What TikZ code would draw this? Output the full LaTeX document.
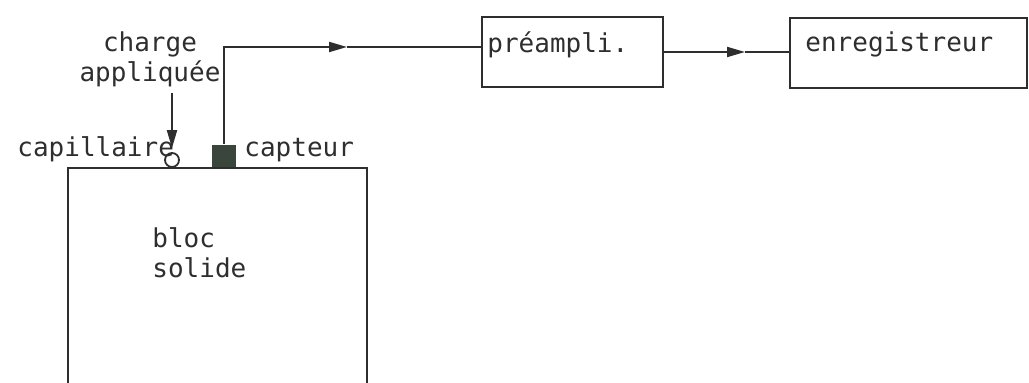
\documentclass[tikz,border=0pt]{standalone}
\usepackage{fontspec}
\setmonofont{DejaVu Sans Mono}
\usetikzlibrary{positioning,calc,arrows.meta}
\definecolor{trait}{HTML}{2E2E2E}
\definecolor{sonde}{HTML}{3A463B}
\tikzset{
    boite/.style={
        rectangle,                % cadre simple
        draw=trait,               % trait gris foncé
        line width=1pt,           % trait assez épais
        minimum height=35pt,      % hauteur des deux boîtes du haut
        inner sep=0pt
    },
    texte/.style={
        font=\ttfamily\fontsize{13}{15}\selectfont, % aspect machine à écrire
        text=trait,
        inner sep=0pt
    },
    fil/.style={
        draw=trait,
        line width=1pt
    },
    fleche/.style={
        fil,
        -{Triangle[length=9pt,width=5pt]} % pointe pleine et étroite
    }
}

\begin{document}
\begin{tikzpicture}[x=0.5pt,y=-0.5pt]
    \useasboundingbox (0,0) rectangle (1029,383);
    % bloc et capteurs
    \node[boite, minimum width=149.5pt, minimum height=150pt, anchor=north] (bloc) at (217.5,167) {};
    \node[texte, anchor=west, align=left] (bloctxt) at (152,253) {bloc\\solide};
    \node[circle, draw=trait, line width=0.9pt, fill=white, minimum size=7pt, inner sep=0pt] (capi) at (172,160) {};
    \node[rectangle, fill=sonde, minimum width=12pt, minimum height=11pt, inner sep=0pt, anchor=south] (capt) at (224,167) {};
    \node[texte, anchor=base west] (capitxt) at (17,157) {capillaire};
    \node[texte, anchor=base west] (capttxt) at (244,157) {capteur};
    \node[texte, align=center] (charge) at (150,59) {charge\\appliquée};
    \coordinate (pied) at (172,93);
    % chaîne de mesure
    \node[boite, minimum width=90.5pt] (pre) at (572.5,52) {};
    \node[texte, anchor=base west] (pretxt) at (487,53) {préampli.};
    \node[boite, minimum width=118.5pt] (enr) at (908.5,53) {};
    \node[texte, anchor=base west] (enrtxt) at (805,52) {enregistreur};
    \coordinate (fl1) at (347,47);
    \coordinate (fl2) at (745,52);

    \draw[fleche, shorten >=2pt] (pied) -- (capi.north);
    \draw[fleche] (capt.north) |- (fl1);
    \draw[fil] (fl1) -- (fl1 -| pre.west);
    \draw[fleche] (pre.east |- fl2) -- (fl2);
    \draw[fil] (fl2) -- (enr.west |- fl2);
\end{tikzpicture}
\end{document}
